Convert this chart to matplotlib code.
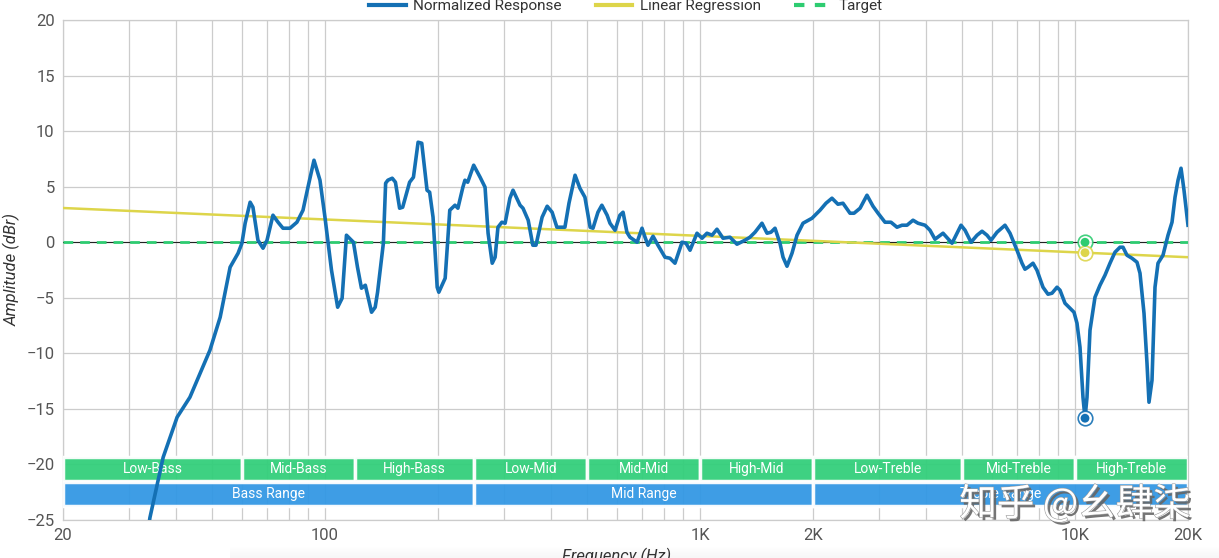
import numpy as np
import matplotlib
matplotlib.use('Agg')
import matplotlib.pyplot as plt
from matplotlib.ticker import FixedLocator, NullFormatter
from matplotlib.patches import Rectangle
from matplotlib.lines import Line2D
import matplotlib.patheffects as pe

plt.rcParams['font.family'] = ['Liberation Sans Narrow', 'Roboto', 'DejaVu Sans']

#-------frequency response---------------------------------
freq = [33.3, 34.1, 37.0, 40.3, 43.6, 49.3, 52.5, 55.8, 58.6, 60.0,
        61.2, 63.1, 64.2, 66.2, 68.3, 70.0, 72.6, 74.9, 77.2, 80.6,
        84.1, 87.3, 90.0, 93.4, 96.9, 99.9, 104, 108, 111, 114,
        119, 122, 125, 128, 133, 136, 138, 143, 145, 147,
        151, 154, 158, 161, 168, 172, 177, 181, 187, 190,
        194, 199, 201, 209, 215, 222, 226, 233, 236, 240,
        249, 259, 267, 272, 279, 284, 289, 296, 302, 311,
        317, 331, 337, 348, 358, 365, 379, 391, 403, 415,
        436, 447, 464, 478, 493, 509, 518, 534, 547, 565,
        575, 593, 611, 623, 638, 650, 679, 700, 713, 726,
        749, 772, 806, 831, 857, 895, 917, 940, 981, 1012,
        1043, 1076, 1109, 1151, 1201, 1254, 1317, 1358, 1401, 1462,
        1508, 1545, 1584, 1633, 1664, 1705, 1758, 1813, 1881, 1988,
        2088, 2166, 2247, 2331, 2404, 2510, 2573, 2670, 2786, 2891,
        2982, 3112, 3228, 3350, 3455, 3562, 3696, 3811, 3979, 4102,
        4230, 4444, 4697, 4842, 4963, 5087, 5278, 5476, 5647, 5822,
        5967, 6191, 6501, 6704, 6998, 7217, 7350, 7487, 7721, 7912,
        8210, 8466, 8677, 8948, 9115, 9397, 9690, 9931, 10116, 10304,
        10495, 10626, 10757, 10957, 11298, 11650, 12013, 12388, 12774, 13172,
        13418, 13750, 14178, 14622, 14894, 15265, 15548, 15740, 16034, 16332,
        16636, 17154, 17690, 18130, 18468, 18812, 19162, 19515, 20000]
response = [-27.3, -24.8, -19.35, -15.75, -13.95, -9.72, -6.75, -2.25, -0.99, -0.09,
            1.71, 3.6, 3.15, 0.18, -0.54, 0.18, 2.43, 1.8, 1.26, 1.26,
            1.8, 2.88, 4.95, 7.38, 5.58, 2.25, -2.52, -5.85, -5.04, 0.63,
            0.0, -2.25, -4.14, -3.87, -6.3, -5.85, -4.5, -0.09, 5.31, 5.58,
            5.76, 5.4, 3.06, 3.15, 5.4, 5.85, 9.0, 8.91, 4.68, 4.5,
            2.25, -4.05, -4.5, -3.24, 2.88, 3.33, 3.06, 4.95, 5.58, 5.4,
            6.93, 5.85, 4.95, 0.81, -1.89, -1.35, 1.35, 1.8, 1.71, 3.96,
            4.68, 3.33, 3.06, 1.98, -0.27, -0.27, 2.25, 3.24, 2.7, 1.35,
            1.35, 3.51, 6.03, 4.86, 4.05, 1.35, 1.26, 2.7, 3.33, 2.43,
            1.71, 1.08, 2.43, 2.7, 0.9, 0.45, 0.0, 1.26, 0.45, -0.27,
            0.54, -0.27, -1.35, -1.44, -1.89, 0.0, -0.09, -0.72, 0.81, 0.36,
            0.81, 0.63, 1.17, 0.36, 0.45, -0.18, 0.18, 0.45, 0.9, 1.71,
            0.81, 0.9, 1.26, -0.09, -1.35, -2.16, -0.99, 0.63, 1.71, 2.16,
            2.88, 3.51, 3.96, 3.42, 3.51, 2.61, 2.61, 3.06, 4.23, 3.24,
            2.61, 1.8, 1.8, 1.35, 1.53, 1.53, 1.98, 1.71, 1.53, 1.08,
            0.27, 0.81, -0.09, 0.81, 1.53, 1.08, 0.0, 0.63, 0.99, 0.63,
            0.18, 0.9, 1.53, 0.81, -0.72, -1.89, -2.43, -2.25, -1.89, -2.52,
            -4.05, -4.68, -4.59, -4.05, -4.32, -5.49, -5.94, -6.3, -7.29, -9.45,
            -13.95, -15.84, -13.95, -7.92, -4.95, -3.87, -2.97, -1.89, -0.9, -0.45,
            -0.45, -1.17, -1.44, -1.8, -2.79, -6.39, -10.89, -14.4, -12.42, -4.05,
            -1.89, -1.17, 0.63, 1.8, 4.05, 5.58, 6.66, 4.68, 1.53]

# linear regression (in log f) end values and target level
reg_freq = [20, 20000]
reg_level = [3.08, -1.35]
target_level = 0.0
marker_freq = 10626

# frequency bands
band_names = ['Low-Bass', 'Mid-Bass', 'High-Bass', 'Low-Mid', 'Mid-Mid',
              'High-Mid', 'Low-Treble', 'Mid-Treble', 'High-Treble']
band_edges = [20, 60, 120, 250, 500, 1000, 2000, 5000, 10000, 20000]
range_names = ['Bass Range', 'Mid Range', 'Treble Range']
range_edges = [20, 250, 2000, 20000]

xtick_vals = [20, 100, 1000, 2000, 10000, 20000]
xtick_text = ['20', '100', '1K', '2K', '10K', '20K']
ytick_vals = [-25, -20, -15, -10, -5, 0, 5, 10, 15, 20]

BLUE = '#1470b4'
YELLOW = '#ddd54a'
GREEN = '#2ecc71'
BAND_GREEN = '#33cf7b'
BAND_BLUE = '#3398e4'
GRID = '#cccccc'
TXT = '#555555'

fig = plt.figure(figsize=(12.19, 5.58), dpi=100)

# faint shadow strip at the very bottom of the screenshot
bg = fig.add_axes([230/1219, 0, 989/1219, 12/558], zorder=-5)
bg.imshow(np.linspace(0, 0.07, 20).reshape(-1, 1), aspect='auto', cmap='Greys',
          vmin=0, vmax=1)
bg.axis('off')

ax = fig.add_axes([63/1219, 1-520/558, 1125/1219, 500/558])
ax.set_xscale('log')
ax.set_xlim(20, 20000)
ax.set_ylim(-25, 20)

# grid
ax.xaxis.set_major_locator(FixedLocator(xtick_vals))
ax.xaxis.set_minor_locator(FixedLocator(
    [m*10**e for e in range(1, 5) for m in range(1, 10) if 20 <= m*10**e <= 20000]))
ax.xaxis.set_minor_formatter(NullFormatter())
ax.set_xticklabels(xtick_text)
ax.set_yticks(ytick_vals)
ax.grid(True, which='both', axis='x', color=GRID, lw=0.9)
ax.grid(True, which='major', axis='y', color=GRID, lw=0.9)
ax.tick_params(which='both', length=0, labelsize=12, colors=TXT, pad=6)
for s in ax.spines.values():
    s.set_color(GRID)
    s.set_linewidth(0.9)

# bands
for i, name in enumerate(band_names):
    lo, hi = band_edges[i], band_edges[i+1]
    ax.add_patch(Rectangle((lo, -21.45), hi-lo, 2.15, facecolor=BAND_GREEN,
                           edgecolor='white', lw=2.5, zorder=3, alpha=0.95))
    ax.text(np.sqrt(lo*hi), -20.4, name, color='white', fontsize=10,
            ha='center', va='center', zorder=4)
for i, name in enumerate(range_names):
    lo, hi = range_edges[i], range_edges[i+1]
    ax.add_patch(Rectangle((lo, -23.75), hi-lo, 2.15, facecolor=BAND_BLUE,
                           edgecolor='white', lw=2.5, zorder=3, alpha=0.95))
    ax.text(np.sqrt(lo*hi), -22.7, name, color='white', fontsize=10,
            ha='center', va='center', zorder=4)

# lines
ax.axhline(target_level, color='#222222', lw=0.8, zorder=4)
ax.axhline(target_level, color=GREEN, lw=2, dashes=(3.5, 2.5), zorder=5)
lr = np.polyfit(np.log10(reg_freq), reg_level, 1)
xr = np.array(reg_freq)
ax.plot(xr, np.polyval(lr, np.log10(xr)), color=YELLOW, lw=1.8, zorder=6)
ax.plot(freq, response, color=BLUE, lw=2.6, zorder=7, solid_joinstyle='round')

# hover markers
yr = np.polyval(lr, np.log10(marker_freq))
ym = np.interp(marker_freq, freq, response)
for yv, c in [(target_level, GREEN), (yr, YELLOW), (ym, BLUE)]:
    ax.scatter([marker_freq], [yv], s=110, facecolor='white', edgecolor=c,
               lw=1.2, zorder=8, alpha=0.9)
    ax.scatter([marker_freq], [yv], s=40, facecolor=c, edgecolor='none', zorder=9)

ax.set_ylabel('Amplitude (dBr)', fontsize=12, style='italic', color='#333333', labelpad=4)
fig.text(617/1219, 1-556/558, 'Frequency (Hz)', fontsize=12, style='italic',
         color='#333333', ha='center', va='center')

handles = [Line2D([], [], color=BLUE, lw=3),
           Line2D([], [], color=YELLOW, lw=3),
           Line2D([], [], color=GREEN, lw=3, dashes=(2.5, 2.5))]
leg = fig.legend(handles, ['Normalized Response', 'Linear Regression', 'Target'],
                 loc='center', bbox_to_anchor=(626/1219, 1-6/558), ncol=3,
                 frameon=False, fontsize=11, handlelength=2.4, columnspacing=2.2,
                 handletextpad=0.5)
for t in leg.get_texts():
    t.set_color('#333333')

# watermark
fig.text(1075/1219, 1-505/558, '知乎 @幺肆柒', fontsize=27, color='white',
         ha='center', va='center', family=['Noto Sans CJK SC', 'DejaVu Sans'],
         path_effects=[pe.withSimplePatchShadow(offset=(2, -2), shadow_rgbFace='#666666', alpha=0.9),
                       pe.withStroke(linewidth=0.8, foreground='#999999')],
         zorder=20)

fig.savefig('out.png', dpi=100)
